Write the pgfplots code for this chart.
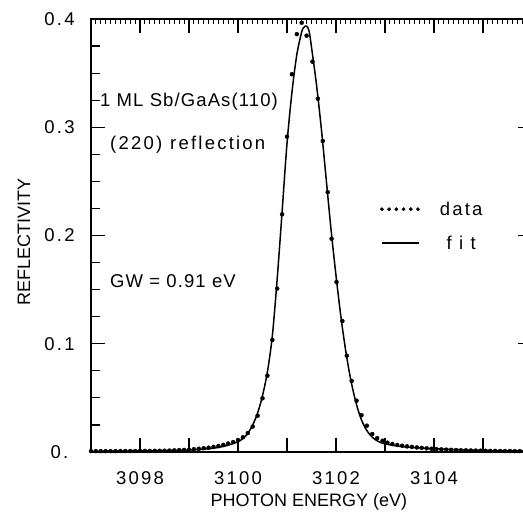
\documentclass[border=0pt]{standalone}
\usepackage{fontspec}
\setmainfont{Liberation Sans}
\newfontfamily\widefont[LetterSpace=12]{Liberation Sans}
\newfontfamily\halffont[LetterSpace=6]{Liberation Sans}
\usepackage{pgfplots}
\pgfplotsset{compat=1.18}
\newcommand{\bigf}{\widefont\fontsize{18.5bp}{20bp}\selectfont}
\newcommand{\midf}{\halffont\fontsize{18.5bp}{20bp}\selectfont}
\newcommand{\labf}{\fontsize{18bp}{20bp}\selectfont}

\begin{document}
\begin{tikzpicture}
\begin{axis}[
    at={(91bp,62bp)}, anchor=south west,
    scale only axis, width=441bp, height=433bp,
    xmin=3097, xmax=3106, ymin=0, ymax=0.4,
    xtick={3097,...,3106},
    xticklabels={,3098,,3100,,3102,,3104,,},
    ytick={0,0.1,0.2,0.3,0.4},
    yticklabels={0.,0.1,0.2,0.3,0.4},
    extra y ticks={0.025,0.05,0.075,0.125,0.15,0.175,0.225,0.25,0.275,0.325,0.35,0.375},
    extra y tick labels={},
    extra y tick style={major tick length=9bp},
    major tick length=14bp,
    tick align=inside,
    axis line style={line width=1.4bp},
    tick style={black, line width=1.2bp},
    tick label style={font=\bigf},
    xticklabel style={anchor=center, yshift=-26bp},
    yticklabel style={anchor=center, xshift=-31.5bp},
    xlabel={PHOTON ENERGY (eV)},
    ylabel={REFLECTIVITY},
    every axis x label/.style={at={(axis description cs:0.494,-0.1155)}, anchor=center, font=\labf},
    every axis y label/.style={at={(axis description cs:-0.152,0.485)}, rotate=90, anchor=center, font=\labf},
    legend style={at={(0.655,0.583)}, anchor=north west, draw=none, fill=none,
        font=\bigf, row sep=15bp, inner sep=0pt,
        /tikz/every odd column/.append style={column sep=18bp}},
    legend cell align=center,
]
% measured reflectivity (dots)
\addplot[only marks, mark=*, mark size=2bp, black,
    legend image code/.code={\foreach \i in {0,...,5}{\fill (\i*7.2bp,0pt) circle (1.7bp);}}]
coordinates {
(3097.0,0.0008)(3097.1,0.0008)(3097.2,0.0008)(3097.3,0.0008)(3097.4,0.0008)
(3097.5,0.0008)(3097.6,0.0009)(3097.7,0.0009)(3097.8,0.0009)(3097.9,0.0009)
(3098.0,0.001)(3098.1,0.001)(3098.2,0.001)(3098.3,0.0011)(3098.4,0.0011)
(3098.5,0.0012)(3098.6,0.0013)(3098.7,0.0015)(3098.8,0.0017)(3098.9,0.0019)
(3099.0,0.0022)(3099.1,0.0026)(3099.2,0.003)(3099.3,0.0035)(3099.4,0.004)
(3099.5,0.0047)(3099.6,0.0055)(3099.7,0.0066)(3099.8,0.0078)(3099.9,0.0092)
(3100.0,0.011)(3100.1,0.0136)(3100.2,0.0175)(3100.3,0.0235)(3100.4,0.0335)
(3100.5,0.0496)(3100.6,0.0705)(3100.7,0.1035)(3100.8,0.151)(3100.9,0.2196)
(3101.0,0.2913)(3101.1,0.349)(3101.2,0.386)(3101.3,0.3966)(3101.4,0.3846)
(3101.52,0.3606)(3101.63,0.3264)(3101.73,0.2873)(3101.83,0.240)(3101.91,0.197)
(3102.01,0.157)(3102.13,0.121)(3102.22,0.089)(3102.32,0.0656)(3102.42,0.0474)
(3102.52,0.034)(3102.63,0.0243)(3102.74,0.0166)(3102.84,0.0128)(3102.95,0.0104)
(3103.05,0.0086)(3103.15,0.0074)(3103.25,0.0065)(3103.35,0.0058)(3103.45,0.0052)
(3103.55,0.0047)(3103.65,0.0042)(3103.75,0.0038)(3103.85,0.0034)(3103.95,0.003)
(3104.05,0.0027)(3104.15,0.0024)(3104.25,0.0022)(3104.35,0.002)(3104.45,0.0018)
(3104.55,0.0016)(3104.65,0.0015)(3104.75,0.0014)(3104.85,0.0013)(3104.95,0.0012)
(3105.05,0.0011)(3105.15,0.001)(3105.25,0.001)(3105.35,0.0009)(3105.45,0.0009)
(3105.55,0.0009)(3105.65,0.0008)(3105.75,0.0008)(3105.85,0.0008)(3105.95,0.0008)
};
\addlegendentry{data}

% fitted curve
\addplot[black, line width=1.5bp, smooth, tension=0.5,
    legend image code/.code={\draw[line width=1.3bp] (0pt,0pt) -- (37bp,0pt);}]
coordinates {
(3097.0,0.0006)(3097.5,0.0008)(3098.0,0.001)(3098.5,0.0013)(3099.0,0.0019)
(3099.3,0.0026)(3099.6,0.0042)(3099.8,0.0063)(3100.0,0.0095)(3100.1,0.0125)
(3100.2,0.0172)(3100.3,0.025)(3100.4,0.036)(3100.5,0.052)(3100.6,0.074)
(3100.7,0.107)(3100.8,0.160)(3100.9,0.222)(3101.0,0.285)(3101.1,0.332)
(3101.2,0.367)(3101.3,0.388)(3101.35,0.3925)(3101.4,0.3935)(3101.45,0.389)
(3101.5,0.374)(3101.6,0.340)(3101.7,0.299)(3101.8,0.252)(3101.9,0.205)
(3102.0,0.163)(3102.1,0.125)(3102.2,0.093)(3102.3,0.067)(3102.4,0.047)
(3102.5,0.032)(3102.6,0.022)(3102.7,0.0155)(3102.8,0.0115)(3102.9,0.009)
(3103.0,0.0075)(3103.25,0.0055)(3103.5,0.0044)(3104.0,0.003)(3104.5,0.0021)
(3105.0,0.0015)(3105.5,0.0011)(3106.0,0.0009)
};
\addlegendentry{f i t}

% fine ticks every 0.1 eV: inward on top, outward on bottom
\pgfplotsinvokeforeach{3097.1,3097.2,...,3105.95}{
  \draw[line width=1.1bp] (axis cs:#1,0.4) -- ++(0bp,-5bp);
  \draw[line width=1.1bp] (axis cs:#1,0) -- ++(0bp,-4bp);
}

\node[anchor=base west, inner sep=0pt, font=\midf] at (rel axis cs:0.0204,0.799) {1 ML Sb/GaAs(110)};
\node[anchor=base west, inner sep=0pt, font=\bigf] at (rel axis cs:0.043,0.6975) {(220)\hspace{8bp}reflection};
\node[anchor=base west, inner sep=0pt, font=\midf] at (rel axis cs:0.043,0.3788) {GW = 0.91 eV};
\end{axis}
\pgfresetboundingbox
\useasboundingbox (0,0) rectangle (523bp,514bp);
\end{tikzpicture}
\end{document}
